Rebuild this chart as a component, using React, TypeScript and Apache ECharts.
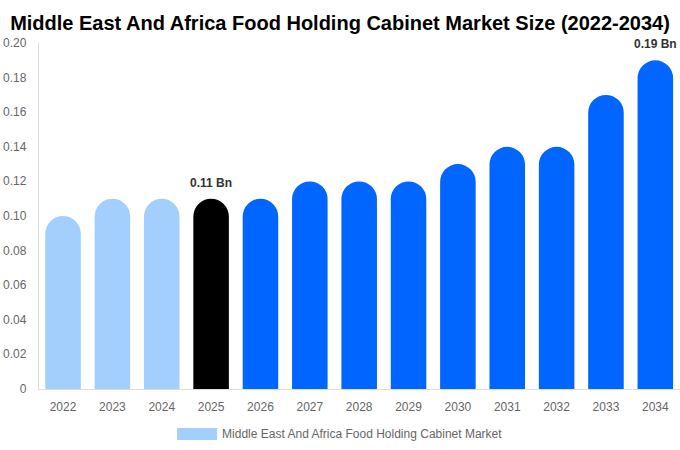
import { useEffect, useRef } from "react";
import * as echarts from "echarts";

const years = ["2022", "2023", "2024", "2025", "2026", "2027", "2028", "2029", "2030", "2031", "2032", "2033", "2034"];
const values = [0.1, 0.11, 0.11, 0.11, 0.11, 0.12, 0.12, 0.12, 0.13, 0.14, 0.14, 0.17, 0.19];
const barColors = [
  "#a3cfff", "#a3cfff", "#a3cfff", "#000000", "#0066ff", "#0066ff", "#0066ff",
  "#0066ff", "#0066ff", "#0066ff", "#0066ff", "#0066ff", "#0066ff",
];
const labelled = ["2025", "2034"];

const FONT = "'Liberation Sans', Arial, sans-serif";

export default function App() {
  const ref = useRef<HTMLDivElement | null>(null);

  useEffect(() => {
    if (!ref.current) return;
    const chart = echarts.init(ref.current, undefined, { renderer: "svg" });
    chart.setOption({
      animation: false,
      textStyle: { fontFamily: FONT },
      title: {
        text: "Middle East And Africa Food Holding Cabinet Market Size (2022-2034)",
        left: "center",
        top: 8,
        textStyle: { fontSize: 20, fontWeight: "bold", color: "#000", fontFamily: FONT },
      },
      legend: {
        bottom: 5,
        left: "center",
        itemWidth: 40,
        itemHeight: 12,
        icon: "rect",
        textStyle: { color: "#666", fontSize: 12, fontFamily: FONT },
        data: [{ name: "Middle East And Africa Food Holding Cabinet Market", itemStyle: { color: "#a3cfff" } }],
      },
      grid: { left: 38, right: 0, top: 43, bottom: 61 },
      xAxis: {
        type: "category",
        data: years,
        axisLine: { lineStyle: { color: "#ddd" } },
        axisTick: { show: false },
        axisLabel: { color: "#666", fontSize: 12, margin: 12 },
      },
      yAxis: {
        type: "value",
        min: 0,
        max: 0.2,
        interval: 0.02,
        axisLine: { show: true, lineStyle: { color: "#ddd" } },
        axisTick: { show: false },
        splitLine: { show: false },
        axisLabel: {
          color: "#666",
          fontSize: 12,
          margin: 12,
          formatter: (v: number) => (v === 0 ? "0" : v.toFixed(2)),
        },
      },
      series: [
        {
          name: "Middle East And Africa Food Holding Cabinet Market",
          type: "bar",
          barWidth: "72%",
          data: values.map((v, i) => ({
            value: v,
            itemStyle: { color: barColors[i], borderRadius: [18, 18, 0, 0] },
            label: {
              show: labelled.includes(years[i]),
              position: "top",
              distance: 10,
              formatter: `${v.toFixed(2)} Bn`,
              fontWeight: "bold",
              fontSize: 12,
              color: "#333",
            },
          })),
        },
      ],
    });
    return () => chart.dispose();
  }, []);

  return (
    <div
      ref={ref}
      style={{ position: "absolute", left: 0, top: 0, width: 680, height: 450, background: "#fff" }}
    />
  );
}
